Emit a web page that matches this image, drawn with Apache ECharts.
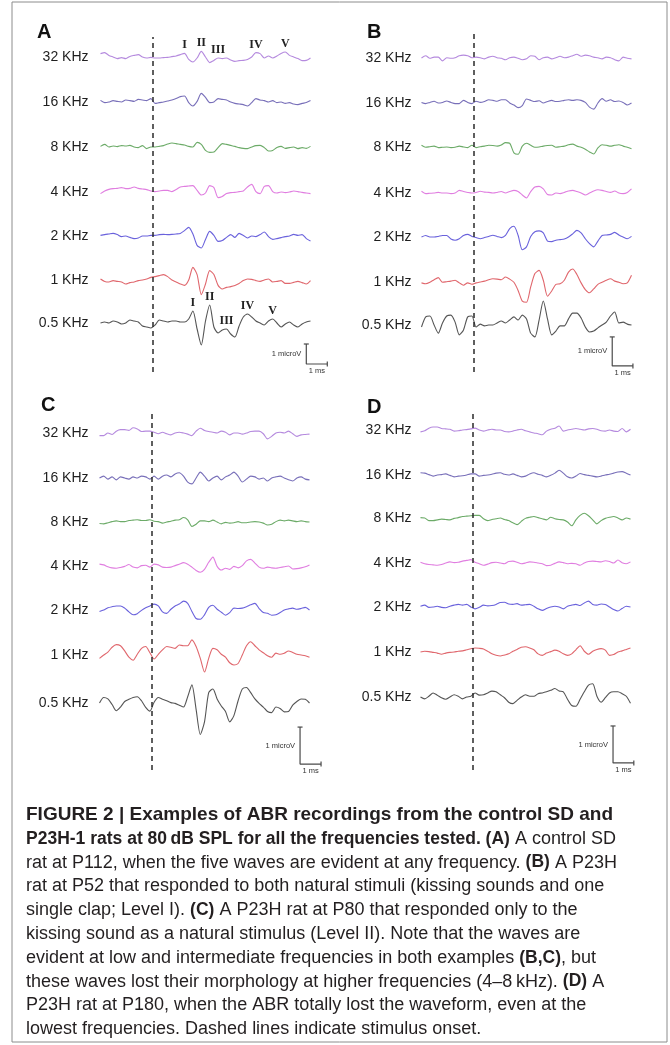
<!DOCTYPE html>
<html>
<head>
<meta charset="utf-8">
<script src="https://cdn.jsdelivr.net/npm/echarts@6/dist/echarts.min.js"></script>
<style>
  html, body { margin: 0; padding: 0; background: #fff; }
  #main { width: 670px; height: 1045px; }
</style>
</head>
<body>
<div id="main"></div>
<script>
// sampling of every trace: start (ms, relative to stimulus onset) and step
var T0 = -2.5
var DT = 0.2

var freqLabels = ['32 KHz', '16 KHz', '8 KHz', '4 KHz', '2 KHz', '1 KHz', '0.5 KHz']
var waveNames = ['I', 'II', 'III', 'IV', 'V']

// panel A (control SD, P112), microV
var A_32 = [.17,.22,.08,0,-.08,-.03,-.08,.03,.08,.12,0,-.05,-.02,-.05,-.05,-.03,-.02,.02,.05,.12,.18,-.12,-.25,-.05,.28,0,-.28,-.17,-.05,-.08,-.05,-.15,-.22,-.18,-.17,-.12,0,.22,.17,-.05,.05,-.05,.05,.18,.25,.08,0,-.08,-.18,-.17,-.05]
var A_16 = [.08,-.03,0,.07,.03,0,.1,.07,.03,.13,.1,.07,.17,-.07,-.03,0,.05,.1,.17,.27,.3,-.03,-.2,.03,.43,.23,-.03,0,.17,.13,.1,0,-.07,-.1,-.13,-.2,-.03,.17,.1,.07,0,.07,-.03,0,-.07,-.03,-.1,-.13,-.07,-.03,.07]
var A_8 = [.03,.13,0,.05,.02,.07,.05,.08,0,-.03,.07,-.08,0,0,.03,.07,.15,.2,.17,.13,.1,.03,0,.23,.13,-.17,-.27,-.25,-.03,.17,.13,.08,.03,-.03,-.07,-.08,0,.07,.08,-.03,-.2,-.17,-.03,.03,-.07,-.03,0,-.08,-.03,-.07,.03]
var A_4 = [-.08,.05,.13,.17,.18,.22,.17,.18,.25,.18,.15,.12,.05,.02,.05,.08,.08,.02,.12,.25,.28,.3,.32,.08,-.15,-.05,.32,.22,-.28,-.22,-.08,-.03,-.02,.02,.05,.25,.38,.02,-.08,.28,.32,.02,-.05,0,-.03,0,.05,.02,-.02,-.05,-.08]
var A_2 = [.03,.07,.1,.13,.07,-.03,0,-.07,-.13,-.1,0,0,.03,.03,.07,.08,.07,.08,.1,.13,.27,.43,.1,-.47,-.6,-.17,.23,.03,-.27,-.23,-.07,.07,-.07,.13,.03,-.1,0,-.03,.07,.2,-.03,-.17,-.13,-.08,-.03,0,.08,.03,.07,-.13,-.25]
var A_1 = [.05,-.07,-.1,-.03,-.07,-.1,-.2,-.13,-.1,-.03,0,.05,.13,.17,.22,.27,.17,0,-.1,-.2,-.27,0,.63,.27,-.73,-.2,.47,.27,-.27,-.45,-.37,-.33,-.27,-.17,-.03,.05,.03,-.03,-.07,0,.05,-.1,-.07,-.03,-.17,-.17,-.12,-.07,-.13,-.2,-.03]
var A_05 = [0,.05,0,.1,.05,-.05,0,.15,.1,.05,-.15,-.2,-.25,-.1,.15,.1,.05,.1,.1,.05,.05,.2,.6,-.3,-1.1,.1,.9,-.2,-.5,-.35,-.3,-.55,-.7,-.15,.3,.45,.3,.1,0,-.1,.1,.2,0,-.2,-.05,.05,-.1,-.2,-.05,.05,.1]

// panel B (P23H, P52)
var B_32 = [0,.08,-.01,.03,.03,-.1,.01,-.01,.01,.08,.1,.08,.01,.03,.01,-.03,.03,.06,.01,-.01,-.06,.01,.03,-.01,-.06,-.03,.08,.06,-.06,.01,.03,-.03,.01,.06,.01,.03,.08,.13,.06,.1,.08,.03,.01,-.03,.03,.01,-.06,-.1,.03,-.01,-.03]
var B_16 = [.02,-.02,.02,.06,0,.02,.07,.02,-.02,-.02,.09,.02,-.02,.06,.02,.05,.11,.09,.06,.11,.11,0,-.07,-.16,-.09,.14,.09,.05,.08,0,.05,.09,.05,.06,.09,.11,.09,.11,.09,.02,-.14,-.21,0,.15,.06,.11,.05,.07,.02,-.07,0]
var B_8 = [.06,-.01,.01,.03,-.02,-.01,0,-.02,-.01,.03,0,-.02,.06,-.02,.01,.03,.06,.05,.03,.07,.15,.13,-.2,-.25,.03,.13,.06,-.01,0,.03,.05,.06,-.01,.01,.03,.08,.1,.03,-.01,-.08,-.17,-.24,-.03,.08,.06,.03,.06,.08,.03,-.01,-.06]
var B_4 = [.06,-.02,-.01,0,.02,0,0,-.02,0,.09,.05,.02,0,.02,.06,.03,.02,0,.02,.05,0,.05,.09,.05,-.07,-.17,.05,.21,.23,.14,-.05,-.07,0,-.02,.02,.07,.09,.05,0,-.07,0,.07,.11,.09,.05,.02,.07,0,-.02,.02,.14]
var B_2 = [0,.05,0,0,.02,.05,.05,-.07,-.11,-.06,.05,.09,.02,-.02,-.06,-.02,.02,.06,.02,-.02,.06,.29,.37,.06,-.44,-.34,.02,.18,.21,.14,-.14,-.16,-.11,-.09,-.07,0,.11,.23,.14,-.06,-.23,-.34,-.14,.05,.07,.09,.16,.07,0,-.06,.02]
var B_1 = [-.03,-.06,-.01,.08,.15,-.01,.01,.03,.06,-.03,-.11,-.03,-.08,-.03,0,.03,.08,.11,.1,.08,.17,.1,-.01,-.29,-.66,-.7,-.17,.29,.4,.06,-.49,-.31,-.08,-.06,.06,.34,.45,.26,-.03,-.26,-.37,-.24,-.08,-.01,.06,.11,.03,-.01,-.06,-.03,.23]
var B_05 = [-.07,.28,.31,0,-.28,.07,.31,.34,.1,-.34,-.17,.28,.31,-.07,.03,-.03,0,0,.07,.14,.07,.17,.28,.17,.34,.21,-.28,-.41,.17,.83,.21,-.34,-.21,-.03,-.03,.21,.41,.41,.24,-.07,-.24,-.21,-.1,0,.1,.31,.45,.07,.1,.03,0]

// panel C (P23H, P80)
var C_32 = [-.07,-.07,0,-.04,.05,.09,.09,.07,.14,.11,.04,.05,.05,.02,-.02,.02,-.02,-.05,0,.02,0,-.03,-.07,.05,.13,.07,.04,.02,0,.05,.02,-.05,0,0,-.03,0,.04,.05,.05,-.02,-.16,-.09,0,.02,0,.05,-.02,-.09,-.05,-.04,-.03]
var C_16 = [0,.05,-.03,.03,-.05,.03,0,-.03,.03,0,.05,.03,-.03,.05,-.03,.05,.08,.03,.11,.14,.05,-.11,-.16,0,.16,.05,-.08,0,.05,-.05,.03,.08,.16,.05,-.11,-.03,.05,.03,-.03,0,-.08,0,.03,.05,0,-.05,-.08,0,.03,-.03,-.05]
var C_8 = [-.04,-.05,-.02,.01,.03,.01,.01,.04,.05,.06,.04,.04,.06,.02,.01,-.03,0,.02,.05,.06,.12,.06,-.12,-.06,.03,.03,.01,.05,0,-.05,-.01,-.03,-.02,.01,-.02,-.02,0,.01,0,-.03,-.08,-.06,.01,.05,.03,.05,.03,.01,.03,.01,0]
var C_4 = [.05,.03,-.02,-.05,-.06,-.04,-.01,.04,-.03,-.05,.01,.02,-.03,.05,.03,-.03,-.04,-.03,.01,.05,.09,.05,-.03,-.12,-.17,-.09,.1,.24,-.01,-.11,-.06,-.09,-.01,-.05,.01,.14,.18,.08,-.03,-.06,-.03,-.05,-.06,-.04,-.02,0,-.08,-.07,-.05,-.02,.03]
var C_2 = [-.04,0,.06,.09,.11,.11,.05,-.05,-.13,-.1,-.01,.06,.11,.16,.11,-.05,-.09,.02,.11,.16,.24,.18,-.04,-.23,-.25,-.13,.07,.13,.02,-.06,-.14,-.07,.05,.04,.05,.09,.14,.18,.04,-.07,-.09,-.14,-.13,-.07,0,.03,.05,.02,.04,.07,0]
var C_1 = [-.09,0,.08,.21,.28,.25,.11,-.06,-.14,.02,.18,.23,.06,-.11,.02,.14,.23,.21,.18,.27,.25,.25,.41,.23,-.09,-.46,-.09,.18,.14,.02,-.06,-.21,-.27,-.23,0,.25,.36,.25,.14,.06,-.02,-.06,.05,.02,.05,.11,.07,.02,0,-.02,-.06]
var C_05 = [0,.15,.11,-.04,-.21,-.11,.04,.1,.15,.17,.06,-.12,-.22,.02,.15,.1,.06,.01,-.01,-.06,-.11,.17,.49,-.17,-.85,-.51,.28,.38,.11,-.08,-.23,-.51,-.34,.06,.38,.42,.28,.11,-.01,-.11,-.23,-.26,-.11,-.15,-.24,-.23,-.06,.04,.11,.1,0]

// panel D (P23H, P180)
var D_32 = [-.05,-.02,.05,.08,.08,.04,.03,.02,-.03,-.02,0,.01,.03,.05,0,-.03,0,.02,0,0,-.04,-.05,-.03,0,.02,-.02,-.05,-.08,-.1,-.13,-.03,.02,.05,.11,-.03,0,.02,.04,.02,0,.03,.04,.02,-.02,-.03,0,-.03,-.04,.04,-.05,.02]
var D_16 = [.06,.05,.01,-.03,0,.01,.03,-.01,-.05,-.03,-.02,0,.03,.03,-.03,-.01,0,.02,.05,.06,.02,0,.03,-.01,-.05,-.03,.03,.06,.02,-.01,-.05,-.01,.05,.13,.05,-.05,-.08,-.03,.04,.01,-.01,-.03,-.05,-.03,0,.02,.05,.08,.09,.05,0]
var D_8 = [.01,0,-.07,-.07,-.05,-.03,-.04,-.05,-.01,.01,.04,.05,.06,.07,.07,-.02,-.07,-.04,-.02,0,-.04,-.07,-.13,-.18,-.09,-.01,.02,.04,.01,-.02,-.05,.02,-.02,-.04,-.05,-.11,-.21,-.05,.07,.13,.06,-.05,-.16,-.07,-.01,.02,.04,0,-.05,0,-.03]
var D_4 = [.02,-.02,-.04,-.05,-.06,-.04,0,.03,.01,.02,.05,.07,.09,.02,-.02,-.06,-.03,.01,.02,0,-.02,.04,.05,.02,-.02,0,.03,.02,0,-.02,-.07,-.06,-.01,.03,.01,-.02,-.01,-.02,-.06,0,.04,.05,.04,.03,.06,.04,0,.08,.01,-.02,.03]
var D_2 = [.02,.05,-.01,0,.02,-.01,-.02,.02,.05,.07,.05,.07,0,-.05,-.01,.05,.03,.04,.07,.12,.13,.08,.07,.09,.05,.06,.07,.02,-.05,-.09,-.04,0,.02,0,-.05,.02,.05,.07,.04,.11,.16,.07,.05,.08,.07,0,-.07,-.11,-.04,.02,0]
var D_1 = [0,.02,.01,-.01,-.03,-.06,-.03,-.01,0,.02,.03,.06,.09,.11,.1,.08,.02,-.05,-.09,-.11,-.08,-.05,.02,.07,.13,.14,.11,.06,-.05,-.09,-.03,.01,.05,.02,-.05,-.09,-.05,.06,.17,.02,-.06,.02,.07,.09,.05,-.09,-.07,0,.03,.07,.11]
var D_05 = [0,-.05,.02,.11,.05,-.02,-.06,0,.06,.02,-.05,0,.02,.11,.05,.06,.11,.16,.14,.06,-.02,-.14,-.18,-.09,0,.06,.02,.02,.09,.11,.14,.18,.23,.16,.14,-.06,-.23,-.25,-.06,.14,.32,.36,.02,-.14,-.02,.11,.14,.14,.09,.02,-.17]

// sample index of each wave peak (I..V) in panel A
var wavePeaksA32 = [20, 24, 28, 37, 44]
var wavePeaksA05 = [22, 26, 30, 35, 41]

var traceColors = ['#b58ade', '#786fb9', '#6cab68', '#e07ee0', '#6a62dc', '#e0676d', '#555555']
var PX_PER_MS = 21
var FONT = '"Liberation Sans", Arial, sans-serif'

var panels = [
    { letter: 'A', letterPos: [37, 22], onsetX: 153, rowY: [57, 102, 147, 192, 236, 280, 323], pxPerUV: 20,
      labelGap: 12, labelShift: 0, dash: [37, 372], bar: [7.3, 0.4],
      traces: [A_32, A_16, A_8, A_4, A_2, A_1, A_05] },
    { letter: 'B', letterPos: [367, 22], onsetX: 474, rowY: [58, 103, 147, 193, 237, 282, 325], pxPerUV: 29,
      labelGap: 10, labelShift: 4, dash: [32, 372], bar: [6.71, 0.21],
      traces: [B_32, B_16, B_8, B_4, B_2, B_1, B_05] },
    { letter: 'C', letterPos: [41, 395], onsetX: 152, rowY: [433, 478, 522, 566, 610, 655, 703], pxPerUV: 37,
      labelGap: 11, labelShift: 0, dash: [412, 770], bar: [7.05, 0.16],
      traces: [C_32, C_16, C_8, C_4, C_2, C_1, C_05] },
    { letter: 'D', letterPos: [367, 397], onsetX: 473, rowY: [430, 475, 518, 563, 607, 652, 697], pxPerUV: 37,
      labelGap: 9, labelShift: 0, dash: [412, 770], bar: [6.76, 0.19],
      traces: [D_32, D_16, D_8, D_4, D_2, D_1, D_05] }
]

var captionLines = [
    '{B|FIGURE 2 | Examples of ABR recordings from the control SD and}',
    '{b|P23H-1 rats at 80\u2009dB SPL for all the frequencies tested. (A)}{n| A control SD}',
    '{n|rat at P112, when the five waves are evident at any frequency. }{b|(B)}{n| A P23H}',
    '{n|rat at P52 that responded to both natural stimuli (kissing sounds and one}',
    '{n|single clap; Level I). }{b|(C)}{n| A P23H rat at P80 that responded only to the}',
    '{n|kissing sound as a natural stimulus (Level II). Note that the waves are}',
    '{n|evident at low and intermediate frequencies in both examples }{b|(B,C)}{n|, but}',
    '{n|these waves lost their morphology at higher frequencies (4\u20138\u2009kHz). }{b|(D)}{n| A}',
    '{n|P23H rat at P180, when the ABR totally lost the waveform, even at the}',
    '{n|lowest frequencies. Dashed lines indicate stimulus onset.}'
]

var toPoints = function (values) {
    return values.map(function (v, i) { return [T0 + i * DT, v] })
}

var waveMarks = function (values, peaks) {
    return {
        symbolSize: 0,
        silent: true,
        label: {
            show: true, position: 'top', distance: 2, formatter: '{b}',
            fontFamily: '"Liberation Serif", "Times New Roman", serif', fontWeight: 'bold', fontSize: 12, color: '#222'
        },
        data: peaks.map(function (k, j) {
            return { name: waveNames[j], coord: [T0 + k * DT, values[k]] }
        })
    }
}

var grids = [], xAxes = [], yAxes = [], series = []

panels.forEach(function (p) {
    var left = p.onsetX - 2.5 * PX_PER_MS
    var width = 10 * PX_PER_MS

    p.rowY.forEach(function (y, r) {
        var idx = grids.length
        grids.push({ left: left, top: y - 2 * p.pxPerUV, width: width, height: 4 * p.pxPerUV })
        xAxes.push({ gridIndex: idx, type: 'value', min: -2.5, max: 7.5, show: false })
        yAxes.push({
            gridIndex: idx, type: 'value', min: -2, max: 2,
            axisLine: { show: false }, axisTick: { show: false }, axisLabel: { show: false }, splitLine: { show: false },
            name: freqLabels[r], nameLocation: 'middle', nameRotate: 0, nameGap: p.labelGap,
            nameTextStyle: {
                align: 'right', verticalAlign: 'middle', fontSize: 14, color: '#1f1f1f', fontFamily: FONT,
                padding: [p.labelShift * 2, 0, 0, 0]
            }
        })
        var s = {
            type: 'line', xAxisIndex: idx, yAxisIndex: idx,
            data: toPoints(p.traces[r]),
            showSymbol: false, smooth: 0.25, silent: true,
            lineStyle: { color: traceColors[r], width: 1.1 }
        }
        if (p.letter === 'A' && r === 0) s.markPoint = waveMarks(p.traces[r], wavePeaksA32)
        if (p.letter === 'A' && r === 6) s.markPoint = waveMarks(p.traces[r], wavePeaksA05)
        series.push(s)
    })

    // overlay grid: stimulus onset line and scale bar, same ms scale as the traces (wider, so the bar fits)
    var oIdx = grids.length
    var h = p.dash[1] - p.dash[0]
    grids.push({ left: left, top: p.dash[0], width: 12 * PX_PER_MS, height: h })
    xAxes.push({ gridIndex: oIdx, type: 'value', min: -2.5, max: 9.5, show: false })
    yAxes.push({ gridIndex: oIdx, type: 'value', min: 0, max: h / p.pxPerUV, show: false })
    var bx = p.bar[0], by = p.bar[1]
    series.push({
        type: 'line', xAxisIndex: oIdx, yAxisIndex: oIdx, clip: false, silent: true,
        showSymbol: false,
        data: [[bx, by + 1], [bx, by], [bx + 1, by]],
        lineStyle: { color: '#4a4a4a', width: 1.2 },
        markLine: {
            silent: true, symbol: ['none', 'none'], label: { show: false },
            lineStyle: { type: [5, 4], color: '#2a2a2a', width: 1.5 },
            data: [{ xAxis: 0 }]
        },
        markPoint: {
            silent: true, symbolSize: 0,
            label: { show: true, fontFamily: FONT, fontSize: 7.5, color: '#333' },
            data: [
                { name: 'uv', coord: [bx, by + 0.5], label: { formatter: '1 microV', position: 'left', distance: 5 } },
                { name: 'ms', coord: [bx + 0.5, by], label: { formatter: '1 ms', position: 'bottom', distance: 3 } },
                { name: 'capV', coord: [bx, by + 1], symbol: 'rect', symbolSize: [5, 1.2], itemStyle: { color: '#4a4a4a' }, label: { show: false } },
                { name: 'capH', coord: [bx + 1, by], symbol: 'rect', symbolSize: [1.2, 5], itemStyle: { color: '#4a4a4a' }, label: { show: false } }
            ]
        }
    })
})

var graphics = [
    { type: 'rect', shape: { x: 12, y: 2, width: 655, height: 1040 }, style: { fill: 'none', stroke: '#8c8c8c', lineWidth: 1 }, silent: true }
]
panels.forEach(function (p) {
    graphics.push({
        type: 'text', x: p.letterPos[0], y: p.letterPos[1], silent: true,
        style: { text: p.letter, fontSize: 20, fontWeight: 'bold', fontFamily: FONT, fill: '#111', verticalAlign: 'top' }
    })
})
captionLines.forEach(function (line, k) {
    graphics.push({
        type: 'text', x: 26, y: 815 + k * 23.8, silent: true,
        style: {
            text: line, verticalAlign: 'middle',
            rich: {
                B: { fontSize: 19, fontWeight: 'bold', fontFamily: FONT, fill: '#231f20' },
                b: { fontSize: 17.5, fontWeight: 'bold', fontFamily: FONT, fill: '#231f20' },
                n: { fontSize: 18, fontFamily: FONT, fill: '#231f20' }
            }
        }
    })
})

var chart = echarts.init(document.getElementById('main'))
chart.setOption({
    animation: false,
    backgroundColor: '#fff',
    grid: grids,
    xAxis: xAxes,
    yAxis: yAxes,
    series: series,
    graphic: graphics
})
</script>
</body>
</html>
